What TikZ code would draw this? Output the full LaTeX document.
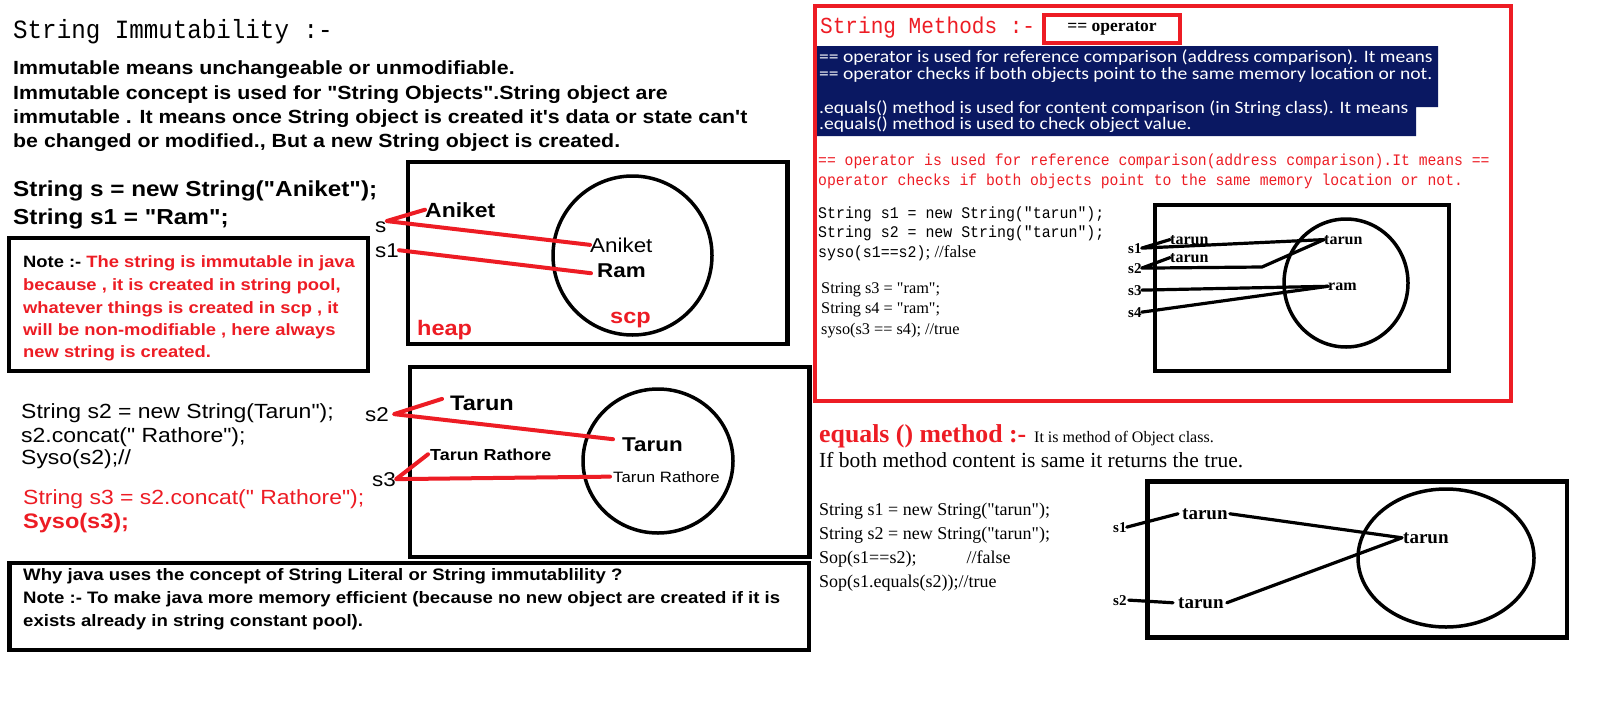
\documentclass[tikz,border=0pt]{standalone}
\usepackage{fontspec}
\newfontfamily\arial[FakeStretch=1.12]{Liberation Sans}
\newfontfamily\consolas[FakeStretch=0.92]{Liberation Mono}
\newfontfamily\cambria{Liberation Serif}
\newfontfamily\calibri[FakeStretch=1.12]{Carlito}
\newcommand\fsize[1]{\fontsize{#1}{#1}\selectfont}
\definecolor{notered}{RGB}{237,28,36}
\definecolor{slidenavy}{RGB}{10,24,98}
\tikzset{
  textline/.style={anchor=base west, inner sep=0pt},
  heapbox/.style={draw, line width=4.5pt},
  poolring/.style={draw, line width=3.5pt},
  redref/.style={draw=notered, line width=4pt, line cap=round, line join=round},
  blackref/.style={draw=black, line width=3.2pt, line cap=round, line join=round},
}
\begin{document}
\begin{tikzpicture}[x=1pt, y=-1pt]
  \fill[white] (0,0) rectangle (1624,723);
  \useasboundingbox (0,0) rectangle (1624,723);

  % left half: immutability
  \node[textline, font=\consolas\fsize{26.3}] (title) at (13,38) {String Immutability :-};
  \node[textline, font=\arial\bfseries\fsize{19.05}] (defA) at (13,74.5) {Immutable means unchangeable or unmodifiable.};
  \node[textline, font=\arial\bfseries\fsize{19.05}] (defB) at (13,99) {Immutable concept is used for "String Objects".String object are};
  \node[textline, font=\arial\bfseries\fsize{19.05}] (defC) at (13,123) {immutable . It means once String object is created it's data or state can't};
  \node[textline, font=\arial\bfseries\fsize{19.05}] (defD) at (13,147) {be changed or modified., But a new String object is created.};

  \node[textline, font=\arial\bfseries\fsize{21.7}] (codeA) at (13,196) {String s = new String("Aniket");};
  \node[textline, font=\arial\bfseries\fsize{21.7}] (codeB) at (13,224) {String s1 = "Ram";};

  \draw[heapbox] (408,162) rectangle (787.5,344);
  \draw[poolring] (632.5,255.5) circle[radius=79.5];
  \node[textline, font=\arial\bfseries\fsize{20.5}] (aniketHeap) at (425,217) {Aniket};
  \node[textline, font=\arial\fsize{20}] (aniketPool) at (590,252) {Aniket};
  \node[textline, font=\arial\bfseries\fsize{20}] (ramPool) at (597,277) {Ram};
  \node[textline, font=\arial\bfseries\fsize{21}, notered] (heapA) at (417,335) {heap};
  \node[textline, font=\arial\bfseries\fsize{21}, notered] (scpA) at (610,323) {scp};
  \node[textline, font=\arial\fsize{20}] (s) at (375,232) {s};
  \node[textline, font=\arial\fsize{20}] (sOne) at (375,257) {s1};
  \draw[redref] (aniketHeap.west) -- (s.north east) -- (aniketPool.west);
  \draw[redref] (sOne.east) -- ([xshift=-6pt,yshift=-3pt]ramPool.west);

  \draw[heapbox] (9,238) rectangle (368,371);
  \node[textline, font=\arial\bfseries\fsize{16.4}] (noteA) at (23,267) {Note :- \textcolor{notered}{The string is immutable in java}};
  \node[textline, font=\arial\bfseries\fsize{16.4}, notered] (noteB) at (23,290) {because , it is created in string pool,};
  \node[textline, font=\arial\bfseries\fsize{16.4}, notered] (noteC) at (23,313) {whatever things is created in scp , it};
  \node[textline, font=\arial\bfseries\fsize{16.4}, notered] (noteD) at (23,335) {will be non-modifiable , here always};
  \node[textline, font=\arial\bfseries\fsize{16.4}, notered] (noteE) at (23,357) {new string is created.};

  \node[textline, font=\arial\fsize{20.5}] (codeC) at (21,418) {String s2 = new String(Tarun");};
  \node[textline, font=\arial\fsize{20.5}] (codeD) at (21,442) {s2.concat(" Rathore");};
  \node[textline, font=\arial\fsize{20.5}] (codeE) at (21,464) {Syso(s2);//};
  \node[textline, font=\arial\fsize{20.5}, notered] (codeF) at (23,504) {String s3 = s2.concat(" Rathore");};
  \node[textline, font=\arial\bfseries\fsize{21}, notered] (codeG) at (23,528) {Syso(s3);};

  \draw[heapbox] (410,367) rectangle (809.5,557);
  \draw[poolring] (658,461) ellipse[x radius=75, y radius=72];
  \node[textline, font=\arial\bfseries\fsize{21}] (tarunHeap) at (450,410) {Tarun};
  \node[textline, font=\arial\bfseries\fsize{20}] (tarunPool) at (622,451) {Tarun};
  \node[textline, font=\arial\bfseries\fsize{16}] (rathoreHeap) at (430,460) {Tarun Rathore};
  \node[textline, font=\arial\fsize{15}] (rathorePool) at (613,482) {Tarun Rathore};
  \node[textline, font=\arial\fsize{20}] (sTwo) at (365,421) {s2};
  \node[textline, font=\arial\fsize{20}] (sThree) at (372,486) {s3};
  \draw[redref] ([xshift=-8pt,yshift=4pt]tarunHeap.west) -- ([xshift=5pt]sTwo.east) -- ([xshift=-9pt,yshift=5pt]tarunPool.west);
  \draw[redref] ([xshift=-2pt]rathoreHeap.west) -- (sThree.east) -- ([xshift=-3pt]rathorePool.west);

  \draw[heapbox] (9.5,563) rectangle (809,650);
  \node[textline, font=\arial\bfseries\fsize{16.6}] (whyA) at (23,580) {Why java uses the concept of String Literal or String immutablility ?};
  \node[textline, font=\arial\bfseries\fsize{16.6}] (whyB) at (23,603) {Note :- To make java more memory efficient (because no new object are created if it is};
  \node[textline, font=\arial\bfseries\fsize{16.6}] (whyC) at (23,626) {exists already in string constant pool).};

  % right half: == and equals()
  \draw[draw=notered, line width=4pt] (815,5.5) rectangle (1511,400.5);
  \node[textline, font=\consolas\fsize{22.9}, notered] (methods) at (820,33) {String Methods :-};
  \node[draw=notered, line width=4pt, fill=white, minimum width=136pt, minimum height=28pt, inner sep=0pt, font=\cambria\bfseries\fsize{17.5}] (opbox) at (1112,28.5) {== operator};
  \fill[slidenavy] (817,46) -- (1438,46) -- (1438,107) -- (1416,107) -- (1416,136) -- (817,136) -- cycle;
  \node[textline, font=\calibri\fsize{17.5}, white] (navyA) at (819,62) {== operator is used for reference comparison (address comparison). It means};
  \node[textline, font=\calibri\fsize{17.5}, white] (navyB) at (819,79) {== operator checks if both objects point to the same memory location or not.};
  \node[textline, font=\calibri\fsize{17.5}, white] (navyC) at (819,113) {.equals() method is used for content comparison (in String class). It means};
  \node[textline, font=\calibri\fsize{17.5}, white] (navyD) at (819,129.5) {.equals() method is used to check object value.};

  \node[textline, font=\consolas\fsize{16}, notered] (monoA) at (818,165) {== operator is used for reference comparison(address comparison).It means ==};
  \node[textline, font=\consolas\fsize{16}, notered] (monoB) at (818,185) {operator checks if both objects point to the same memory location or not.};

  \node[textline, font=\consolas\fsize{16.2}] (eqA) at (818,218) {String s1 = new String("tarun");};
  \node[textline, font=\consolas\fsize{16.2}] (eqB) at (818,237.5) {String s2 = new String("tarun");};
  \node[textline, font=\consolas\fsize{16.2}] (eqC) at (818,257.5) {syso(s1==s2){\cambria\fsize{17}; //false}};
  \node[textline, font=\cambria\fsize{16.3}] (eqD) at (821,293) {String s3 = "ram";};
  \node[textline, font=\cambria\fsize{16.3}] (eqE) at (821,313.5) {String s4 = "ram";};
  \node[textline, font=\cambria\fsize{16.3}] (eqF) at (821,334) {syso(s3 == s4); //true};

  \draw[poolring] (1155,205) rectangle (1449,371);
  \draw[poolring] (1346,283) ellipse[x radius=62, y radius=64];
  \node[textline, font=\cambria\bfseries\fsize{15}] (rsOne) at (1128,253) {s1};
  \node[textline, font=\cambria\bfseries\fsize{15}] (rsTwo) at (1128,273) {s2};
  \node[textline, font=\cambria\bfseries\fsize{15}] (rsThree) at (1128,295) {s3};
  \node[textline, font=\cambria\bfseries\fsize{15}] (rsFour) at (1128,317) {s4};
  \node[textline, font=\cambria\bfseries\fsize{16}] (tarunX) at (1170,244) {tarun};
  \node[textline, font=\cambria\bfseries\fsize{16}] (tarunY) at (1170,262) {tarun};
  \node[textline, font=\cambria\bfseries\fsize{16}] (tarunZ) at (1324,244) {tarun};
  \node[textline, font=\cambria\bfseries\fsize{16}] (ramZ) at (1328,290) {ram};
  \coordinate (bend) at (1262,267);
  \draw[blackref] (tarunX.west) -- (rsOne.east) -- (tarunZ.west);
  \draw[blackref] (tarunY.west) -- (rsTwo.east) -- (bend) -- (tarunZ.west);
  \draw[blackref] (rsThree.east) -- (ramZ.west);
  \draw[blackref] (rsFour.east) -- (ramZ.west);

  \node[textline, font=\cambria\bfseries\fsize{25.8}, notered] (eqTitle) at (819,442) {equals () method :-};
  \node[textline, font=\cambria\fsize{16}] (eqObj) at (1034,442) {It is method of Object class.};
  \node[textline, font=\cambria\fsize{21.5}] (eqTrue) at (819,467) {If both method content is same it returns the true.};
  \node[textline, font=\cambria\fsize{18}] (opA) at (819,515) {String s1 = new String("tarun");};
  \node[textline, font=\cambria\fsize{18}] (opB) at (819,539) {String s2 = new String("tarun");};
  \node[textline, font=\cambria\fsize{18}] (opC) at (819,563) {Sop(s1==s2);\hspace{50pt}//false};
  \node[textline, font=\cambria\fsize{18}] (opD) at (819,587) {Sop(s1.equals(s2));//true};

  \draw[heapbox] (1147.5,481.5) rectangle (1567,637.5);
  \draw[poolring] (1446,558) ellipse[x radius=88, y radius=69];
  \node[textline, font=\cambria\bfseries\fsize{15}] (bsOne) at (1113,532) {s1};
  \node[textline, font=\cambria\bfseries\fsize{15}] (bsTwo) at (1113,605) {s2};
  \node[textline, font=\cambria\bfseries\fsize{19}] (tarunP) at (1182,519) {tarun};
  \node[textline, font=\cambria\bfseries\fsize{19}] (tarunQ) at (1178,608) {tarun};
  \node[textline, font=\cambria\bfseries\fsize{19}] (tarunR) at (1403,543) {tarun};
  \draw[blackref] (bsOne.east) -- ([xshift=-4pt]tarunP.west);
  \draw[blackref] ([xshift=2pt]tarunP.east) -- ([xshift=-1pt]tarunR.west) -- ([xshift=3pt]tarunQ.east);
  \draw[blackref] ([xshift=2pt]bsTwo.east) -- ([xshift=-5pt]tarunQ.west);
\end{tikzpicture}
\end{document}
